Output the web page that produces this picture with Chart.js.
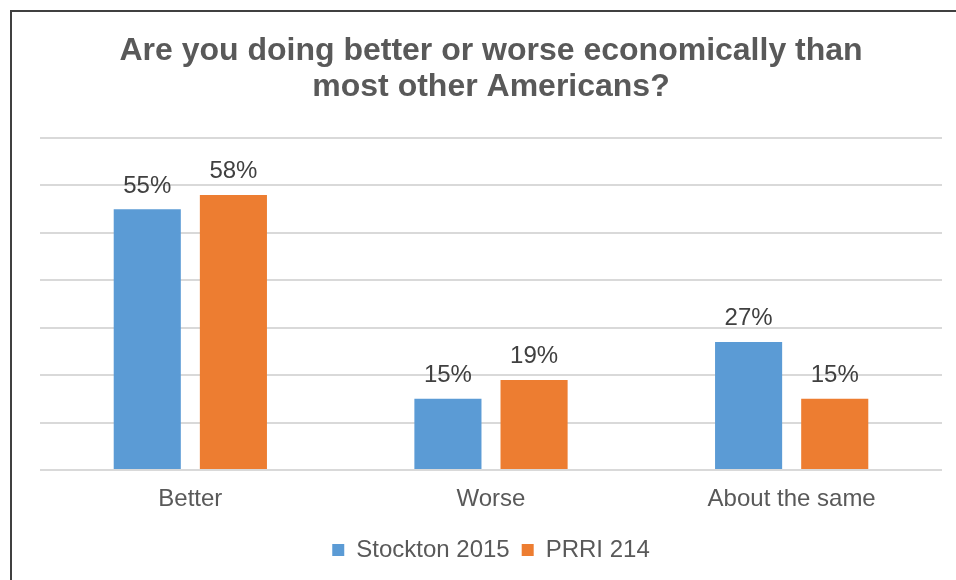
<!DOCTYPE html>
<html>
<head>
<meta charset="utf-8">
<script src="https://cdn.jsdelivr.net/npm/chart.js@4.4.1/dist/chart.umd.min.js"></script>
<style>
  html, body { margin: 0; padding: 0; background: #fff; overflow: hidden; }
  #wrap { position: relative; width: 956px; height: 580px; }
</style>
</head>
<body>
<div id="wrap"><canvas id="chart" width="956" height="580"></canvas></div>
<script>
// Survey answers by source
const categories = ['Better', 'Worse', 'About the same'];
const stockton2015 = [55, 15, 27];
const prri214 = [58, 19, 15];
const seriesNames = ['Stockton 2015', 'PRRI 214'];
const titleLines = ['Are you doing better or worse economically than', 'most other Americans?'];

const FONT = "'Liberation Sans', Arial, Helvetica, sans-serif";

// Frame lines along the top and left of the canvas
const framePlugin = {
  id: 'frame',
  beforeDraw(chart) {
    const ctx = chart.ctx;
    ctx.save();
    ctx.fillStyle = '#ffffff';
    ctx.fillRect(0, 0, chart.width, chart.height);
    ctx.strokeStyle = '#404040';
    ctx.lineWidth = 2;
    ctx.beginPath();
    ctx.moveTo(11, chart.height + 2);
    ctx.lineTo(11, 11);
    ctx.lineTo(chart.width + 2, 11);
    ctx.stroke();
    ctx.restore();
  }
};

// Percentage labels above each bar
const valueLabels = {
  id: 'valueLabels',
  afterDatasetsDraw(chart) {
    const ctx = chart.ctx;
    ctx.save();
    ctx.font = '24px ' + FONT;
    ctx.fillStyle = '#404040';
    ctx.textAlign = 'center';
    ctx.textBaseline = 'alphabetic';
    chart.data.datasets.forEach((ds, i) => {
      chart.getDatasetMeta(i).data.forEach((bar, j) => {
        ctx.fillText(ds.data[j] + '%', bar.x, bar.y - 16.5);
      });
    });
    ctx.restore();
  }
};

new Chart(document.getElementById('chart'), {
  type: 'bar',
  data: {
    labels: categories,
    datasets: [
      { label: seriesNames[0], data: stockton2015, backgroundColor: '#5B9BD5',
        categoryPercentage: 0.573, barPercentage: 0.779 },
      { label: seriesNames[1], data: prri214, backgroundColor: '#ED7D31',
        categoryPercentage: 0.573, barPercentage: 0.779 }
    ]
  },
  options: {
    responsive: false,
    animation: false,
    devicePixelRatio: 1,
    layout: { padding: { left: 40, right: 14, top: 0, bottom: 8 } },
    plugins: {
      title: {
        display: true,
        text: titleLines,
        color: '#595959',
        font: { family: FONT, size: 32, weight: 'bold', lineHeight: 1.125 },
        padding: { top: 33, bottom: 33 }
      },
      legend: {
        position: 'bottom',
        labels: {
          color: '#595959',
          font: { family: FONT, size: 24 },
          boxWidth: 12,
          boxHeight: 12,
          padding: 12
        }
      },
      tooltip: { enabled: false }
    },
    scales: {
      x: {
        grid: { display: false, drawTicks: false },
        border: { display: false },
        ticks: { color: '#595959', font: { family: FONT, size: 24 }, padding: 15 },
        afterFit(scale) { scale.height = 56; }
      },
      y: {
        min: 0,
        max: 70,
        ticks: { display: false, stepSize: 10 },
        grid: { color: '#D9D9D9', lineWidth: 2, drawTicks: false },
        border: { display: false }
      }
    }
  },
  plugins: [framePlugin, valueLabels]
});
</script>
</body>
</html>
